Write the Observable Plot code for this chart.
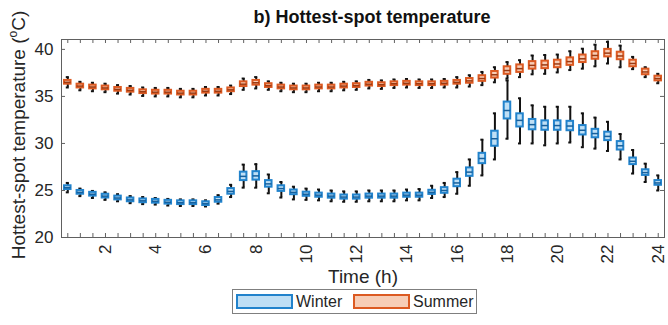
<!DOCTYPE html>
<html>
<head>
<meta charset="utf-8">
<script src="https://cdn.jsdelivr.net/npm/d3@7"></script>
<script src="https://cdn.jsdelivr.net/npm/@observablehq/plot@0.6"></script>
<style>
  html, body { margin: 0; padding: 0; background: #fff; }
  #wrap { position: relative; width: 668px; height: 325px; background: #fff; font-family: "Liberation Sans", Arial, sans-serif; color: #262626; overflow: hidden; }
  #title { position: absolute; left: 122px; top: 6px; width: 500px; text-align: center; font-weight: bold; font-size: 18px; line-height: 22px; color: #111; }
  #chart { position: absolute; left: 0; top: 30px; }
  #legend { position: absolute; left: 232px; top: 289px; width: 245px; height: 25px; box-sizing: border-box; border: 1px solid #7f7f7f; background: #fff; }
  .sw { position: absolute; top: 4px; width: 57px; height: 15px; box-sizing: border-box; border: 2px solid; }
  .lt { position: absolute; top: 1px; font-size: 16px; line-height: 21px; color: #262626; }
</style>
</head>
<body>
<div id="wrap">
  <div id="title">b) Hottest-spot temperature</div>
  <div id="chart"></div>
  <div id="legend"></div>
</div>
<script>
// ---- data ----
const hours = [0.5,1,1.5,2,2.5,3,3.5,4,4.5,5,5.5,6,6.5,7,7.5,8,8.5,9,9.5,10,10.5,11,11.5,12,12.5,13,13.5,14,14.5,15,15.5,16,16.5,17,17.5,18,18.5,19,19.5,20,20.5,21,21.5,22,22.5,23,23.5,24];
const xTickLabels = [2,4,6,8,10,12,14,16,18,20,22,24];
const yTickLabels = [20,25,30,35,40];
const seasons = ["Winter", "Summer"];

const winterMedian = [25.3,24.8,24.6,24.4,24.2,24.0,23.9,23.85,23.75,23.7,23.7,23.6,24.0,24.9,26.5,26.55,25.7,25.2,24.8,24.6,24.5,24.4,24.3,24.3,24.4,24.4,24.4,24.5,24.5,24.8,25.0,25.8,26.95,28.4,30.5,33.5,32.45,32.0,31.9,31.9,31.85,31.4,31.05,30.75,29.75,28.1,26.9,25.8];
const winterQ1 = [25.1,24.6,24.4,24.2,24.0,23.8,23.7,23.65,23.55,23.5,23.5,23.4,23.75,24.6,26.05,26.1,25.35,24.9,24.55,24.38,24.28,24.18,24.08,24.08,24.18,24.18,24.18,24.28,24.28,24.58,24.7,25.4,26.5,27.85,29.7,32.6,31.75,31.45,31.4,31.4,31.35,30.9,30.6,30.3,29.3,27.75,26.6,25.55];
const winterQ3 = [25.5,25.0,24.8,24.6,24.4,24.2,24.1,24.05,23.95,23.9,23.9,23.8,24.25,25.2,26.95,27.0,26.05,25.5,25.05,24.82,24.72,24.62,24.52,24.52,24.62,24.62,24.62,24.72,24.72,25.02,25.3,26.2,27.4,28.95,31.3,34.4,33.15,32.55,32.4,32.4,32.35,31.9,31.5,31.2,30.2,28.45,27.2,26.05];
const winterLow = [24.8,24.4,24.2,24.0,23.85,23.65,23.55,23.5,23.4,23.35,23.35,23.3,23.6,24.3,25.3,25.3,24.7,24.25,24.05,24.0,23.95,23.85,23.8,23.8,23.85,23.85,23.85,23.95,23.95,24.2,24.3,24.65,25.5,26.6,28.3,30.5,30.0,30.0,29.8,30.0,30.1,29.6,29.45,29.2,28.3,26.8,25.9,25.0];
const winterHigh = [25.8,25.2,24.95,24.8,24.6,24.4,24.3,24.2,24.1,24.05,24.05,23.95,24.5,25.6,27.75,27.8,26.7,25.9,25.4,25.2,25.1,25.0,24.9,24.9,25.0,25.0,25.0,25.1,25.15,25.5,25.8,26.95,28.3,30.4,33.2,36.7,34.8,34.05,33.9,33.9,33.9,33.2,32.75,32.3,31.0,29.3,27.85,26.6];

const summerMedian = [36.5,36.1,36.0,35.9,35.75,35.65,35.5,35.45,35.45,35.35,35.35,35.55,35.55,35.7,36.3,36.45,36.15,36.0,35.9,35.9,36.0,36.0,36.1,36.15,36.3,36.25,36.35,36.4,36.35,36.35,36.4,36.5,36.65,36.9,37.3,37.75,37.95,38.3,38.35,38.45,38.7,39.0,39.35,39.6,39.3,38.5,37.6,36.9];
const summerQ1 = [36.3,35.9,35.8,35.7,35.55,35.45,35.3,35.25,35.25,35.15,35.15,35.35,35.35,35.5,36.05,36.2,35.95,35.8,35.7,35.7,35.8,35.8,35.9,35.95,36.1,36.05,36.15,36.2,36.15,36.15,36.2,36.3,36.4,36.6,36.95,37.35,37.55,37.9,37.95,38.05,38.3,38.6,38.95,39.2,38.9,38.15,37.3,36.65];
const summerQ3 = [36.7,36.3,36.2,36.1,35.95,35.85,35.7,35.65,35.65,35.55,35.55,35.75,35.75,35.9,36.55,36.7,36.35,36.2,36.1,36.1,36.2,36.2,36.3,36.35,36.5,36.45,36.55,36.6,36.55,36.55,36.6,36.7,36.9,37.2,37.65,38.15,38.35,38.7,38.75,38.85,39.1,39.4,39.75,40.0,39.7,38.85,37.9,37.15];
const summerLow = [35.95,35.65,35.55,35.45,35.3,35.2,35.05,35.0,35.0,34.9,34.9,35.1,35.1,35.25,35.7,35.85,35.7,35.55,35.45,35.45,35.55,35.55,35.65,35.7,35.85,35.8,35.9,35.95,35.9,35.9,35.95,35.95,36.05,36.2,36.5,36.9,37.05,37.35,37.4,37.55,37.8,37.95,38.2,38.5,38.1,37.9,37.05,36.4];
const summerHigh = [37.05,36.55,36.45,36.35,36.2,36.1,35.95,35.9,35.9,35.8,35.8,36.0,36.0,36.15,36.9,37.05,36.6,36.45,36.35,36.35,36.45,36.45,36.55,36.6,36.75,36.7,36.8,36.85,36.8,36.8,36.85,37.05,37.25,37.6,38.1,38.65,38.85,39.35,39.4,39.45,39.8,40.07,40.5,40.8,40.4,39.2,38.1,37.4];

// ---- styles ----
const colors = {
  Winter: {stroke: "#2283cc", fill: "#bfdff5", median: "#17609c"},
  Summer: {stroke: "#dc5a22", fill: "#f7cdb6", median: "#9c3a12"}
};

function build(season, med, q1, q3, lo, hi) {
  return hours.map((h, i) => ({season, hour: h, med: med[i], q1: q1[i], q3: q3[i], lo: lo[i], hi: hi[i]}));
}
const winter = build("Winter", winterMedian, winterQ1, winterQ3, winterLow, winterHigh);
const summer = build("Summer", summerMedian, summerQ1, summerQ3, summerLow, summerHigh);

const boxHalf = 0.13, capHalf = 0.06;
function boxMarks(data) {
  const c = colors[data[0].season];
  return [
    Plot.ruleX(data, {x: "hour", y1: "lo", y2: "hi", stroke: "#111", strokeWidth: 2}),
    Plot.ruleY(data, {y: "lo", x1: d => d.hour - capHalf, x2: d => d.hour + capHalf, stroke: "#111", strokeWidth: 2}),
    Plot.ruleY(data, {y: "hi", x1: d => d.hour - capHalf, x2: d => d.hour + capHalf, stroke: "#111", strokeWidth: 2}),
    Plot.rect(data, {x1: d => d.hour - boxHalf, x2: d => d.hour + boxHalf, y1: "q1", y2: "q3", fill: c.fill, stroke: c.stroke, strokeWidth: 2}),
    Plot.ruleY(data, {y: "med", x1: d => d.hour - boxHalf, x2: d => d.hour + boxHalf, stroke: c.median, strokeWidth: 1.5})
  ];
}

const W = 668, H = 263, mt = 9, mb = 56, ml = 61, mr = 4;
const fw = W - ml - mr, fh = H - mt - mb;
const frameColor = "#606060";

const svg = Plot.plot({
  width: W, height: H,
  marginTop: mt, marginBottom: mb, marginLeft: ml, marginRight: mr,
  style: {fontFamily: "'Liberation Sans', Arial, sans-serif", fontSize: "17px", color: "#262626", background: "#fff", overflow: "visible"},
  x: {domain: [0.25, 24.25]},
  y: {domain: [20, 41.05]},
  marks: [
    Plot.frame({stroke: frameColor, strokeWidth: 1}),
    Plot.tickX(hours, {x: d => d, insetTop: fh - 4, stroke: frameColor}),
    Plot.tickX(hours, {x: d => d, insetBottom: fh - 4, stroke: frameColor}),
    Plot.tickY(yTickLabels, {y: d => d, insetRight: fw - 4, stroke: frameColor}),
    Plot.tickY(yTickLabels, {y: d => d, insetLeft: fw - 4, stroke: frameColor}),
    Plot.axisX(xTickLabels, {tickSize: 0, tickRotate: -90, tickPadding: 7, fontSize: 17, label: null}),
    Plot.axisY(yTickLabels, {tickSize: 0, tickPadding: 8, fontSize: 17, label: null}),
    ...boxMarks(winter),
    ...boxMarks(summer),
    Plot.text(["Time (h)"], {frameAnchor: "bottom", dy: 45, fontSize: 19, fill: "#262626"})
  ]
});

// y-axis title with superscript
const yl = d3.select(svg).append("text")
  .attr("transform", `translate(25, ${mt + fh / 2 - 3}) rotate(-90)`)
  .attr("text-anchor", "middle")
  .attr("font-size", 19)
  .attr("fill", "#262626");
yl.append("tspan").text("Hottest-spot temperature (");
yl.append("tspan").attr("font-size", 12).attr("dy", -8).text("o");
yl.append("tspan").attr("dy", 8).text("C)");

document.getElementById("chart").appendChild(svg);

// legend
const legend = document.getElementById("legend");
const legendPos = [{sw: 3, tx: 63}, {sw: 120, tx: 180}];
seasons.forEach((s, i) => {
  const sw = document.createElement("div");
  sw.className = "sw";
  sw.style.left = legendPos[i].sw + "px";
  sw.style.background = colors[s].fill;
  sw.style.borderColor = colors[s].stroke;
  legend.appendChild(sw);
  const t = document.createElement("div");
  t.className = "lt";
  t.style.left = legendPos[i].tx + "px";
  t.textContent = s;
  legend.appendChild(t);
});
</script>
</body>
</html>
